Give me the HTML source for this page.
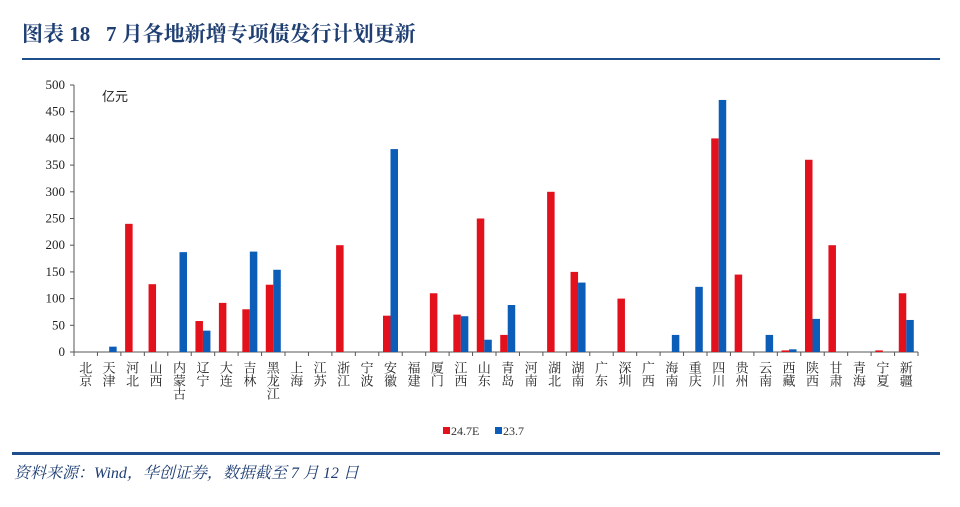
<!DOCTYPE html>
<html><head><meta charset="utf-8"><style>
body{margin:0;background:#fff;width:960px;height:502px;overflow:hidden;font-family:"Liberation Serif","Noto Serif CJK SC",serif;}
</style></head><body>
<svg width="960" height="502" xmlns="http://www.w3.org/2000/svg">
<text x="22" y="41" font-size="21" font-weight="bold" fill="#1f3f73" font-family="Liberation Serif, Noto Serif CJK SC, serif">图表 18&#160;&#160; 7 月各地新增专项债发行计划更新</text>
<rect x="22" y="58" width="918" height="2" fill="#1f4e8c"/>
<g id="plot"></g>
<g>
<rect x="443" y="427" width="7" height="7" fill="#e3111b"/>
<text x="451" y="435" font-size="12" fill="#333">24.7E</text>
<rect x="495" y="427" width="7" height="7" fill="#0b5db8"/>
<text x="503" y="435" font-size="12" fill="#333">23.7</text>
</g>
<rect x="12" y="452" width="928" height="3" fill="#1f4e8c"/>
<text x="14" y="478" font-size="16" font-style="italic" fill="#1f3f73" font-family="Liberation Serif, Noto Serif CJK SC, serif">资料来源：Wind，华创证券，数据截至 7 月 12 日</text>
</svg>
<script>
const categories=["北京","天津","河北","山西","内蒙古","辽宁","大连","吉林","黑龙江","上海","江苏","浙江","宁波","安徽","福建","厦门","江西","山东","青岛","河南","湖北","湖南","广东","深圳","广西","海南","重庆","四川","贵州","云南","西藏","陕西","甘肃","青海","宁夏","新疆"];
const series247E=[0,0,240,127,0,58,92,80,126,0,0,200,0,68,0,110,70,250,32,0,300,150,0,100,0,0,0,400,145,0,3,360,200,0,3,110];
const series237=[0,10,0,0,187,40,0,188,154,0,0,0,0,380,0,0,67,23,88,0,0,130,0,0,0,32,122,472,0,32,5,62,0,0,0,60];
const yTicks=[0,50,100,150,200,250,300,350,400,450,500];
const NS="http://www.w3.org/2000/svg";
const g=document.getElementById('plot');
const x0=74,x1=918,y0=352,yTop=85,yMax=500;
const bw=(x1-x0)/categories.length;
const yS=v=>y0-(v/yMax)*(y0-yTop);
function mk(t,a){const e=document.createElementNS(NS,t);for(const k in a)e.setAttribute(k,a[k]);g.appendChild(e);return e;}
// y axis
let ax=mk('line',{x1:x0,y1:yTop,x2:x0,y2:y0,stroke:'#555','stroke-width':1});


yTicks.forEach(v=>{
 const tk=mk('line',{x1:x0-4,y1:yS(v),x2:x0,y2:yS(v),stroke:'#555'});
 
 
 const t=mk('text',{x:x0-9,y:yS(v)+4,'font-size':13,'text-anchor':'end',fill:'#222'});
 t.textContent=v;
 
 
});
const u=mk('text',{x:102,y:101,'font-size':13,fill:'#222','font-family':'Noto Sans CJK SC, sans-serif'});
u.textContent='亿元';


let xa=mk('line',{x1:x0,y1:y0,x2:x1,y2:y0,stroke:'#555'});


const w=7.5;
categories.forEach((c,i)=>{
 const xl=x0+i*bw, cx=xl+bw/2;
 const tk=mk('line',{x1:xl,y1:y0,x2:xl,y2:y0+4,stroke:'#555'});
 
 
 if(series247E[i]>0){const r=mk('rect',{x:cx-w,y:yS(series247E[i]),width:w,height:y0-yS(series247E[i]),fill:'#e3111b'});
  
  }
 if(series237[i]>0){const r=mk('rect',{x:cx,y:yS(series237[i]),width:w,height:y0-yS(series237[i]),fill:'#0b5db8'});
  
  }
 const t=mk('text',{x:cx,y:y0+9,'font-size':13,fill:'#222','writing-mode':'tb','font-family':'Noto Serif CJK SC, serif','text-anchor':'start'});
 t.textContent=c;
 
 
});
const tl=mk('line',{x1:x1,y1:y0,x2:x1,y2:y0+4,stroke:'#555'});


</script>
</body></html>
